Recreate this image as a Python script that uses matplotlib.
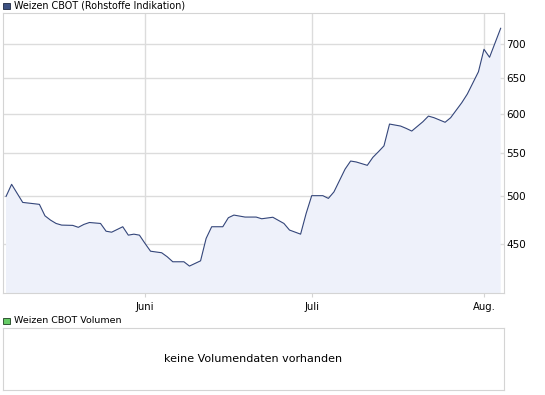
import numpy as np
import pandas as pd
import matplotlib
matplotlib.use('Agg')
import matplotlib.pyplot as plt
import matplotlib.dates as mdates
from matplotlib.patches import Rectangle
from matplotlib.ticker import FixedLocator, FixedFormatter, NullLocator

# price series
dates = ['2010-05-07', '2010-05-08', '2010-05-10', '2010-05-13', '2010-05-14', '2010-05-15',
         '2010-05-16', '2010-05-17', '2010-05-19', '2010-05-20', '2010-05-21', '2010-05-22',
         '2010-05-24', '2010-05-25', '2010-05-26', '2010-05-28', '2010-05-29', '2010-05-30',
         '2010-05-31', '2010-06-01', '2010-06-02', '2010-06-04', '2010-06-05', '2010-06-06',
         '2010-06-08', '2010-06-09', '2010-06-11', '2010-06-12', '2010-06-13', '2010-06-15',
         '2010-06-16', '2010-06-17', '2010-06-19', '2010-06-21', '2010-06-22', '2010-06-24',
         '2010-06-26', '2010-06-27', '2010-06-29', '2010-06-30', '2010-07-01', '2010-07-03',
         '2010-07-04', '2010-07-05', '2010-07-07', '2010-07-08', '2010-07-09', '2010-07-11',
         '2010-07-12', '2010-07-13', '2010-07-14', '2010-07-15', '2010-07-17', '2010-07-18',
         '2010-07-19', '2010-07-21', '2010-07-22', '2010-07-23', '2010-07-25', '2010-07-26',
         '2010-07-28', '2010-07-29', '2010-07-31', '2010-08-01', '2010-08-02', '2010-08-04']
prices = [500, 513.5, 493.4, 491.3, 479, 474.5,
          471, 469.3, 469, 467, 470, 472,
          471, 463, 462, 467.6, 459, 460,
          459, 450.7, 443, 441.5, 437.6, 432.8,
          432.8, 428.7, 433.7, 455.7, 467.6, 467.6,
          477, 479.8, 477.7, 477.7, 475.9, 477.5,
          471, 464.2, 460, 481.6, 500.8, 500.8,
          497.8, 505, 531, 540.6, 539.5, 535.5,
          545, 551.8, 559, 586.6, 584, 581,
          577.6, 589.6, 597, 594.9, 588.9, 594.9,
          614.9, 626.8, 658.4, 691.9, 679.8, 724.7]

yticks = [450, 500, 550, 600, 650, 700]
month_ticks = ['2010-06-01', '2010-07-01', '2010-08-01']
month_labels = ['Juni', 'Juli', 'Aug.']

title = 'Weizen CBOT (Rohstoffe Indikation)'
vol_title = 'Weizen CBOT Volumen'
vol_msg = 'keine Volumendaten vorhanden'

plt.rcParams['font.family'] = ['DejaVu Sans']
W, H = 545, 395
fig = plt.figure(figsize=(W / 100, H / 100), dpi=100)

def box(l, t, r, b):
    return [l / W, 1 - b / H, (r - l) / W, (b - t) / H]

line_col = '#34467a'
fill_col = '#eef1fa'
grid_col = '#dcdcdc'
frame_col = '#d4d4d4'

x = pd.to_datetime(dates)
ax = fig.add_axes(box(3, 13, 503.5, 293.4))
ax.fill_between(x, prices, 1, color=fill_col, lw=0)
ax.plot(x, prices, color=line_col, lw=0.8)
ax.set_yscale('log')
ax.set_ylim(403.6, 749.6)
jun1 = mdates.date2num(pd.Timestamp('2010-06-01'))
ax.set_xlim(jun1 - 25.55, jun1 + 64.51)

ax.yaxis.set_major_locator(FixedLocator(yticks))
ax.yaxis.set_major_formatter(FixedFormatter([str(t) for t in yticks]))
ax.yaxis.set_minor_locator(NullLocator())
ax.yaxis.tick_right()
ax.tick_params(axis='y', length=0, pad=2, labelsize=7.5)
ax.set_xticks(pd.to_datetime(month_ticks))
ax.set_xticklabels(month_labels)
ax.tick_params(axis='x', length=3, color=frame_col, pad=3, labelsize=7.2)
ax.grid(True, color=grid_col, lw=1)
ax.set_axisbelow(True)
for s in ax.spines.values():
    s.set_color(frame_col)

# legend squares + titles
fig.patches.append(Rectangle((3.3 / W, 1 - 9 / H), 6.5 / W, 6.5 / H, transform=fig.transFigure,
                             facecolor='#3d5182', edgecolor='#1c2640', lw=0.6))
fig.text(13.5 / W, 1 - 6 / H, title, fontsize=6.9, va='center', ha='left')

fig.patches.append(Rectangle((3.3 / W, 1 - 324 / H), 6.5 / W, 6.5 / H, transform=fig.transFigure,
                             facecolor='#66cc66', edgecolor='#1c4020', lw=0.6))
fig.text(13.5 / W, 1 - 320.6 / H, vol_title, fontsize=6.8, va='center', ha='left')

vax = fig.add_axes(box(3, 327.5, 503.5, 390))
vax.set_xticks([])
vax.set_yticks([])
for s in vax.spines.values():
    s.set_color(frame_col)
vax.text(0.5, 0.5, vol_msg, transform=vax.transAxes, ha='center', va='center', fontsize=8)

fig.savefig('out.png', dpi=100)
